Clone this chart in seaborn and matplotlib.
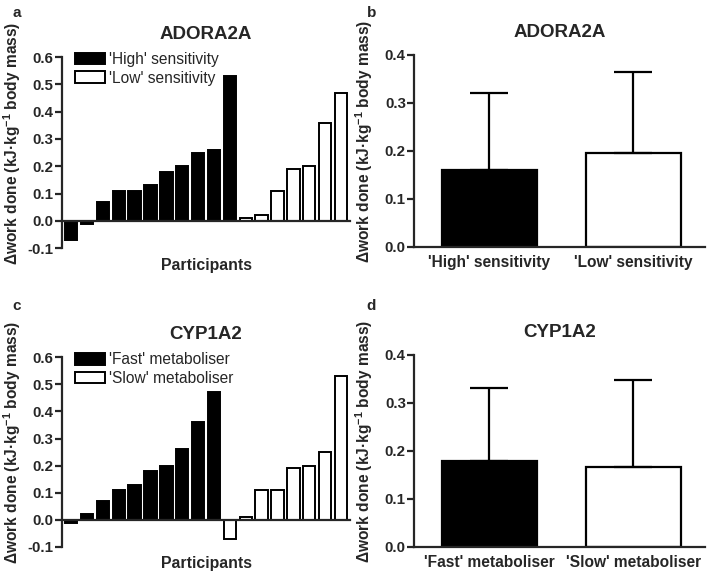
import matplotlib
matplotlib.use("Agg")
import matplotlib.pyplot as plt
import numpy as np
import pandas as pd
import seaborn as sns

# values
adora_high = [-0.07, -0.01, 0.07, 0.11, 0.11, 0.13, 0.18, 0.20, 0.25, 0.26, 0.53]
adora_low = [0.01, 0.02, 0.11, 0.19, 0.20, 0.36, 0.47]
cyp_fast = [-0.01, 0.02, 0.07, 0.11, 0.13, 0.18, 0.20, 0.26, 0.36, 0.47]
cyp_slow = [-0.07, 0.01, 0.11, 0.11, 0.19, 0.20, 0.25, 0.53]

adora_groups = ["'High' sensitivity", "'Low' sensitivity"]
adora_mean = [0.160, 0.195]
adora_sd = [0.160, 0.170]
cyp_groups = ["'Fast' metaboliser", "'Slow' metaboliser"]
cyp_mean = [0.180, 0.167]
cyp_sd = [0.150, 0.180]

sns.set_style("ticks")
plt.rcParams['font.family'] = ['Liberation Sans', 'DejaVu Sans']
plt.rcParams['font.weight'] = 'bold'
plt.rcParams['mathtext.fontset'] = 'custom'
plt.rcParams['mathtext.rm'] = 'Liberation Sans:bold'
plt.rcParams['mathtext.bf'] = 'Liberation Sans:bold'
plt.rcParams['mathtext.it'] = 'Liberation Sans:bold:italic'

YLABEL = "\u0394work done (kJ\u00b7kg$^{-1}$ body mass)"
LW = 1.6


def style_axis(ax):
    sns.despine(ax=ax)
    for s in ['left', 'bottom']:
        ax.spines[s].set_linewidth(LW)
    ax.tick_params(axis='y', width=LW, length=5, labelsize=10.8, direction='out', pad=1)
    ax.set_ylabel(YLABEL, fontsize=11.2, fontweight='bold')
    ax.yaxis.set_label_coords(-0.135, 0.55)
    for t in ax.get_yticklabels():
        t.set_fontweight('bold')


def participants_panel(ax, first, second, names, title):
    df = pd.DataFrame({
        'idx': np.arange(len(first) + len(second)),
        'value': first + second,
        'group': [names[0]] * len(first) + [names[1]] * len(second),
    })
    sns.barplot(data=df, x='idx', y='value', hue='group', dodge=False,
                palette={names[0]: 'black', names[1]: 'white'}, saturation=1,
                edgecolor='black', linewidth=1.4, width=0.78, ax=ax)
    ax.set_xlim(-0.6, 17.6)
    ax.set_ylim(-0.1, 0.6)
    ax.set_yticks(np.arange(-0.1, 0.61, 0.1))
    ax.set_yticklabels([f"{v:.1f}" for v in np.arange(-0.1, 0.61, 0.1)])
    ax.set_xticks([])
    style_axis(ax)
    ax.spines['bottom'].set_position(('data', 0))
    ax.set_xlabel('Participants', fontsize=11.4, fontweight='bold')
    ax.xaxis.set_label_coords(0.5, -0.05)
    ax.set_title(title, fontsize=13.5, fontweight='bold', pad=13)
    ax.legend(frameon=False, loc='upper left', bbox_to_anchor=(0.025, 1.06),
              prop={'weight': 'normal', 'size': 11.2}, handlelength=1.9,
              handleheight=0.8, borderaxespad=0, labelspacing=0.25,
              handletextpad=0.3)


def mean_panel(ax, groups, means, sds, title):
    df = pd.DataFrame({'group': groups, 'mean': means})
    sns.barplot(data=df, x='group', y='mean', hue='group',
                palette={groups[0]: 'black', groups[1]: 'white'}, saturation=1,
                edgecolor='black', linewidth=LW, width=0.66, legend=False, ax=ax)
    ax.errorbar(x=[0, 1], y=means, yerr=[[0, 0], sds], fmt='none',
                ecolor='black', elinewidth=LW, capsize=14, capthick=LW)
    ax.set_xlim(-0.52, 1.5)
    ax.set_ylim(0, 0.4)
    ax.set_yticks(np.arange(0, 0.41, 0.1))
    ax.set_yticklabels([f"{v:.1f}" for v in np.arange(0, 0.41, 0.1)])
    style_axis(ax)
    ax.tick_params(axis='x', length=0, labelsize=11.2, pad=6)
    for t in ax.get_xticklabels():
        t.set_fontweight('bold')
    ax.set_xlabel('')
    ax.set_title(title, fontsize=13.5, fontweight='bold', pad=13)


fig = plt.figure(figsize=(7.08, 5.77), dpi=100)
ax_a = fig.add_axes([0.087, 0.570, 0.408, 0.331])
ax_b = fig.add_axes([0.585, 0.572, 0.411, 0.333])
ax_c = fig.add_axes([0.087, 0.052, 0.408, 0.329])
ax_d = fig.add_axes([0.585, 0.052, 0.411, 0.333])

participants_panel(ax_a, adora_high, adora_low, adora_groups, 'ADORA2A')
mean_panel(ax_b, adora_groups, adora_mean, adora_sd, 'ADORA2A')
participants_panel(ax_c, cyp_fast, cyp_slow, cyp_groups, 'CYP1A2')
mean_panel(ax_d, cyp_groups, cyp_mean, cyp_sd, 'CYP1A2')

for lbl, x, y in [('a', 0.018, 0.978), ('b', 0.518, 0.978), ('c', 0.018, 0.47), ('d', 0.518, 0.47)]:
    fig.text(x, y, lbl, fontsize=11, fontweight='bold', ha='left', va='center')

fig.savefig('out.png', dpi=100)
